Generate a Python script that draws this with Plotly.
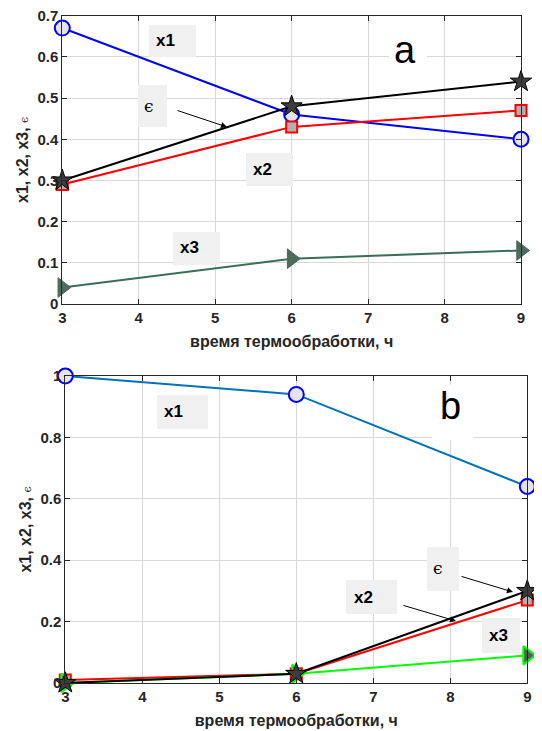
import plotly.graph_objects as go

# the page body has an 8px margin, so the figure is drawn 8px in from the
# window corner; size it to fill the rest of the 542x731 window exactly
OFF = 8
W, H = 542 - OFF, 731 - OFF

# ---------------- data ----------------
hours = [3, 6, 9]
a_x1 = [0.67, 0.46, 0.40]
a_x2 = [0.29, 0.43, 0.47]
a_x3 = [0.04, 0.11, 0.13]
a_eps = [0.30, 0.48, 0.54]

b_x1 = [1.00, 0.94, 0.64]
b_x2 = [0.01, 0.03, 0.27]
b_x3 = [0.00, 0.03, 0.09]
b_eps = [0.00, 0.03, 0.30]

x_ticks = [3, 4, 5, 6, 7, 8, 9]
a_y_ticks = [0, 0.1, 0.2, 0.3, 0.4, 0.5, 0.6, 0.7]
a_y_labels = ["0", "0.1", "0.2", "0.3", "0.4", "0.5", "0.6", "0.7"]
b_y_ticks = [0, 0.2, 0.4, 0.6, 0.8, 1.0]
b_y_labels = ["0", "0.2", "0.4", "0.6", "0.8", "1"]

x_title = "время термообработки, ч"
y_title = "x1, x2, x3, <span style=\"font-family:'DejaVu Serif';font-weight:normal;font-size:11px\">ϵ</span>"


def px(x):
    return (x - OFF) / W


def py(y):
    return 1 - (y - OFF) / H


fig = go.Figure()

GRAY_FACE = "#e4e4ea"


def add(xs, ys, xa, ya, color, symbol, size, face, edge, edgew, name):
    fig.add_trace(go.Scatter(
        x=xs, y=ys, xaxis=xa, yaxis=ya, mode="lines+markers", name=name,
        line=dict(color=color, width=2),
        marker=dict(symbol=symbol, size=size, color=face,
                    line=dict(color=edge, width=edgew)),
        cliponaxis=False, showlegend=False))


# top panel (a)
add(hours, a_x1, "x", "y", "#0000ff", "circle", 15, GRAY_FACE, "#0000ff", 2, "x1")
add(hours, a_x2, "x", "y", "#ff0000", "square", 11, "#b0b0b0", "#ff0000", 2, "x2")
add(hours, a_eps, "x", "y", "#000000", "star", 16, "#3c3c3c", "#000000", 1, "ϵ")
add(hours, a_x3, "x", "y", "#3b6e57", "triangle-right", 17, "#4b6b5d", "#4b6b5d", 1, "x3")

# bottom panel (b)
add(hours, b_x1, "x2", "y2", "#0072bd", "circle", 15, GRAY_FACE, "#0000ff", 2, "x1")
add(hours, b_x2, "x2", "y2", "#ff0000", "square", 11, "#b0b0b0", "#ff0000", 2, "x2")
add(hours, b_x3, "x2", "y2", "#00ff00", "triangle-right", 16, "#5a5a5a", "#00ff00", 2, "x3")
add(hours, b_eps, "x2", "y2", "#000000", "star", 16, "#3c3c3c", "#000000", 1, "ϵ")

TICKFONT = dict(family="Liberation Sans", size=15, color="#262626", weight="bold")
TITLEFONT = dict(family="Liberation Sans", size=16, color="#262626", weight="bold")

xcommon = dict(range=[3, 9], tickvals=x_ticks, ticks="inside", ticklen=5,
               tickcolor="#262626", showline=True, linecolor="#262626",
               linewidth=1, mirror="ticks", showgrid=True, gridcolor="#d8d8d8",
               gridwidth=1, zeroline=False, tickfont=TICKFONT, automargin=False,
               ticklabeloverflow="allow")
ycommon = dict(ticks="inside", ticklen=5, tickcolor="#262626", showline=True,
               linecolor="#262626", linewidth=1, mirror="ticks", showgrid=True,
               gridcolor="#d8d8d8", gridwidth=1, zeroline=False, tickfont=TICKFONT,
               automargin=False, ticklabeloverflow="allow")

fig.update_layout(
    width=W, height=H,
    margin=dict(l=0, r=0, t=0, b=0),
    paper_bgcolor="white", plot_bgcolor="white",
    xaxis=dict(domain=[px(62.3), px(521)], anchor="y",
               title=dict(text=x_title, font=TITLEFONT, standoff=10), **xcommon),
    yaxis=dict(domain=[py(304), py(15.7)], anchor="x", range=[0, 0.7],
               tickvals=a_y_ticks, ticktext=a_y_labels,
               title=dict(text=y_title, font=TITLEFONT, standoff=4), **ycommon),
    xaxis2=dict(domain=[px(65.3), px(527.3)], anchor="y2",
                title=dict(text=x_title, font=TITLEFONT, standoff=10), **xcommon),
    yaxis2=dict(domain=[py(683), py(376)], anchor="x2", range=[0, 1],
                tickvals=b_y_ticks, ticktext=b_y_labels,
                title=dict(text=y_title, font=TITLEFONT, standoff=4), **ycommon),
)

# label boxes (pixel coordinates of the window)
boxes = [
    (149, 25, 196, 57, "#f0f0f0"),
    (138, 85, 167, 127, "#f0f0f0"),
    (246, 153, 293, 186, "#f0f0f0"),
    (173, 232, 220, 265, "#f0f0f0"),
    (389, 30, 427, 80, "#ffffff"),
    (157, 395, 208, 429, "#f0f0f0"),
    (427, 547, 459, 591, "#f0f0f0"),
    (346, 580, 397, 614, "#f0f0f0"),
    (482, 618, 520, 653, "#f0f0f0"),
    (432, 385, 473, 440, "#ffffff"),
]
for x0, y0, x1, y1, c in boxes:
    fig.add_shape(type="rect", xref="paper", yref="paper",
                  x0=px(x0), x1=px(x1), y0=py(y1), y1=py(y0),
                  fillcolor=c, line=dict(width=0), layer="above")

LBL = dict(family="Liberation Sans", size=17, color="black", weight="bold")
EPS = dict(family="DejaVu Serif", size=17, color="black")
BIG = dict(family="Liberation Sans", size=38, color="black")

texts = [
    (154, 41, "x1", LBL, "left"),
    (149, 106, "ϵ", EPS, "center"),
    (251, 169, "x2", LBL, "left"),
    (178, 248, "x3", LBL, "left"),
    (405, 50, "a", BIG, "center"),
    (162, 411, "x1", LBL, "left"),
    (438, 568, "ϵ", EPS, "center"),
    (352, 597, "x2", LBL, "left"),
    (487, 635, "x3", LBL, "left"),
    (450, 406, "b", BIG, "center"),
]
for x, y, t, f, anc in texts:
    fig.add_annotation(xref="paper", yref="paper", x=px(x), y=py(y), text=t,
                       font=f, showarrow=False, xanchor=anc, yanchor="middle")

arrows = [
    (176, 110, 227, 127),
    (460, 576, 513, 592),
    (402, 605, 456, 621),
]
for sx, sy, hx, hy in arrows:
    fig.add_annotation(xref="paper", yref="paper", x=px(hx), y=py(hy), text="",
                       showarrow=True, ax=sx - hx, ay=sy - hy, arrowhead=2,
                       arrowsize=1.2, arrowwidth=1, arrowcolor="black")

fig.write_html("out.html")
